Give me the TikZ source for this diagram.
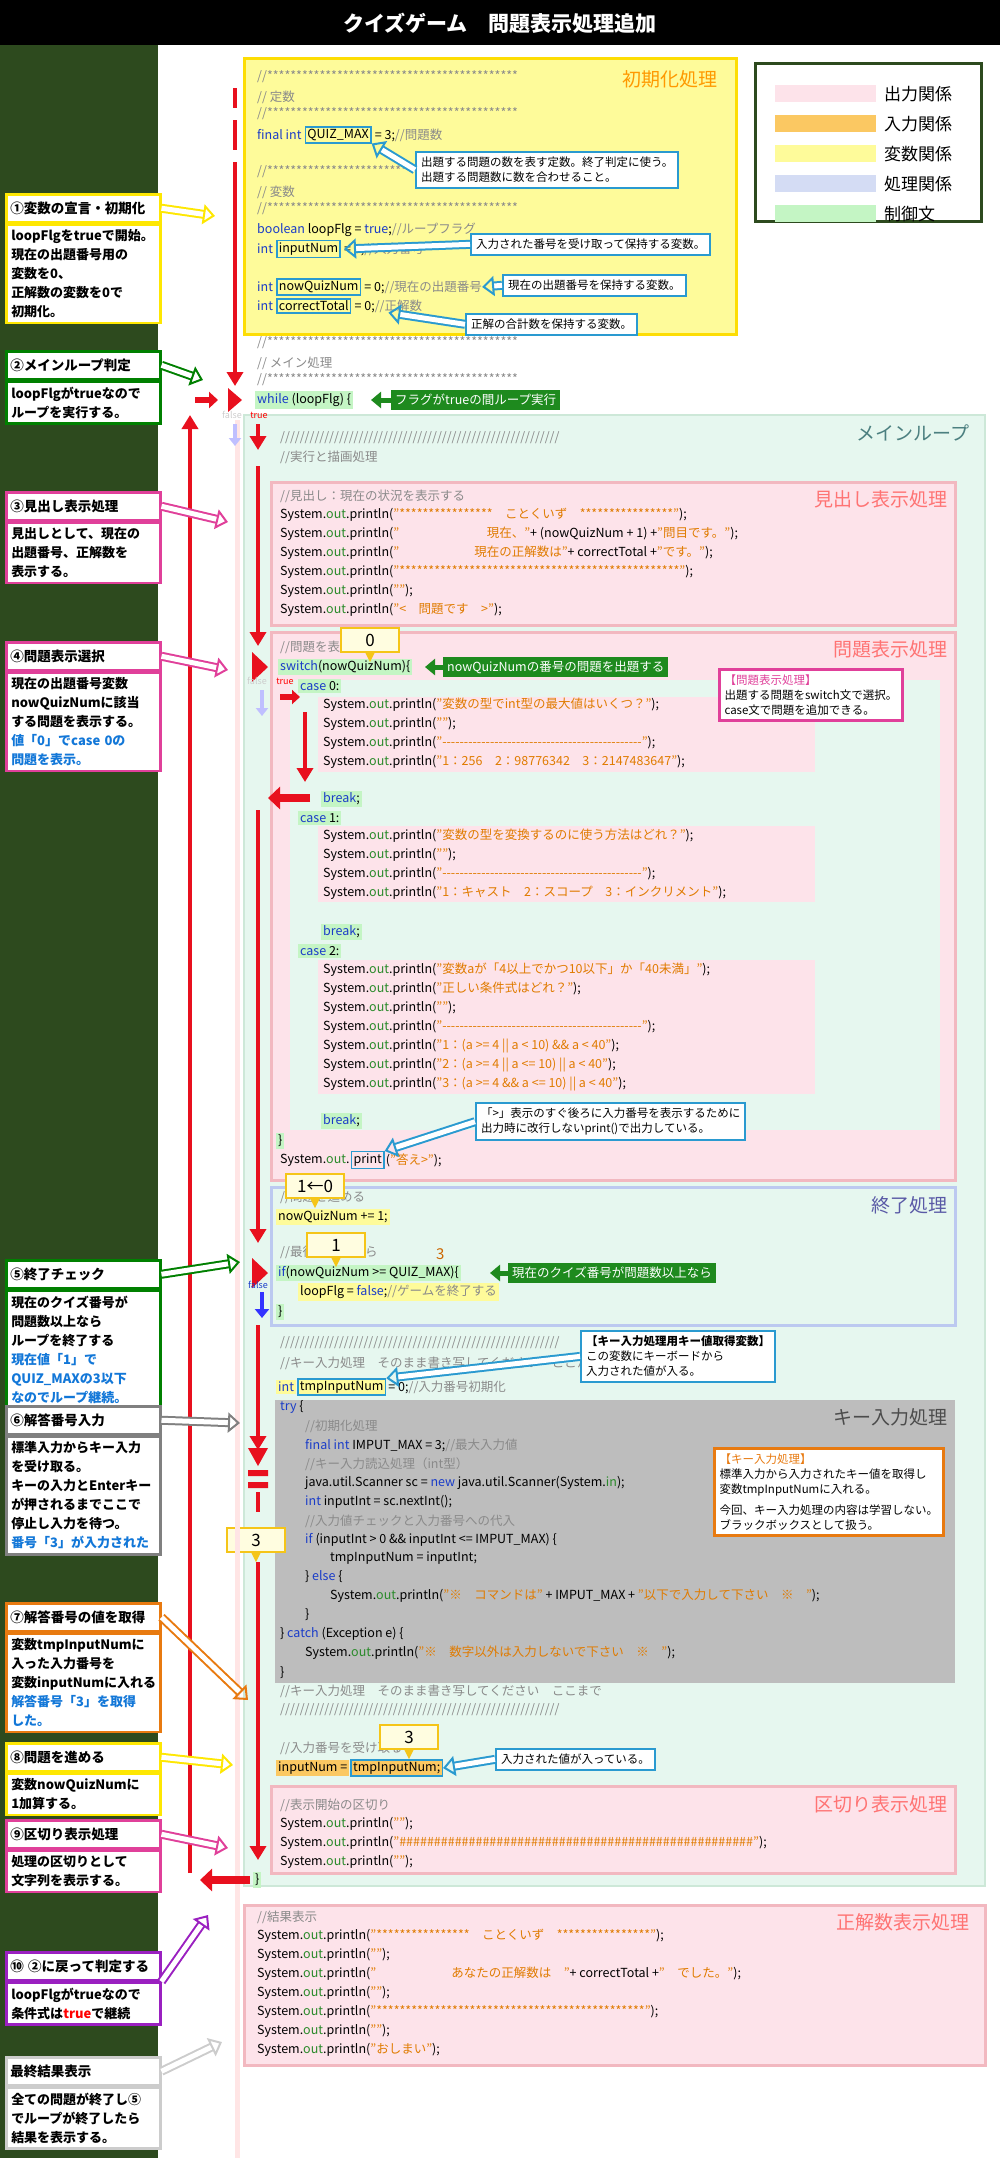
\documentclass[tikz,border=0pt]{standalone}
\usepackage{fontspec}
\setmainfont{Noto Sans CJK JP}
\usetikzlibrary{arrows.meta,positioning,calc}
\definecolor{panelgreen}{HTML}{2D4A1E}
\definecolor{pinkbg}{HTML}{FDE3EA}
\definecolor{pinkbd}{HTML}{F2B8C0}
\definecolor{orangebg}{HTML}{FBC862}
\definecolor{yellowbg}{HTML}{FEFB9A}
\definecolor{lavbg}{HTML}{D4DCF4}
\definecolor{lavbd}{HTML}{BCC9F0}
\definecolor{ctrlbg}{HTML}{C4F5C4}
\definecolor{mainbg}{HTML}{E6F7EF}
\definecolor{mainbd}{HTML}{CDE8D8}
\definecolor{keybg}{HTML}{BDBDBD}
\definecolor{callblue}{HTML}{2A9AD0}
\definecolor{labgreen}{HTML}{1E8A1E}
\definecolor{kwblue}{HTML}{1A3CC8}
\definecolor{stror}{HTML}{E07B00}
\definecolor{cmgray}{HTML}{8A8A8A}
\definecolor{outgr}{HTML}{2A8A2A}
\definecolor{redarr}{HTML}{E8101E}
\definecolor{magbd}{HTML}{E0409A}
\definecolor{bubbd}{HTML}{F5C518}
\definecolor{orbd}{HTML}{E87A10}
\definecolor{purbd}{HTML}{9A20C0}
\newcommand{\kwd}[1]{\textcolor{kwblue}{#1}}
\newcommand{\strg}[1]{\textcolor{stror}{#1}}
\newcommand{\cmnt}[1]{\textcolor{cmgray}{#1}}
\newcommand{\grn}[1]{\textcolor{outgr}{#1}}
\newcommand{\sysout}{System.\grn{out}.println}
\tikzset{
	code/.style = {anchor=west, inner sep=0pt, font=\fontsize{12.5}{14}\selectfont},
	hl/.style = {anchor=west, inner sep=2pt, fill=#1, font=\fontsize{12.5}{14}\selectfont},
	varbox/.style = {draw=callblue, line width=1.5pt, anchor=west, inner sep=2pt, font=\fontsize{12.5}{14}\selectfont},
	boxlabel/.style = {anchor=north east, inner sep=0pt, font=\fontsize{19}{21}\selectfont, text=#1},
	callout/.style = {draw=callblue, line width=2pt, fill=white, align=left, inner sep=5pt,
			font=\fontsize{11.5}{15}\selectfont},
	greenlab/.style = {fill=labgreen, text=white, inner sep=4pt, font=\fontsize{12.5}{14}\selectfont},
	bubble/.style = {draw=bubbd, line width=2.5pt, fill=yellow!12, minimum width=58pt,
			minimum height=24pt, font=\fontsize{17}{18}\selectfont},
	lefttitle/.style = {draw=#1, line width=2.5pt, fill=white, anchor=north west, minimum width=154pt,
			minimum height=28pt, text width=146pt, inner sep=3pt, font=\bfseries\fontsize{13.5}{15}\selectfont},
	leftbody/.style = {draw=#1, line width=2.5pt, fill=white, anchor=north west, minimum width=154pt,
			text width=144pt, align=left, inner sep=5pt, font=\bfseries\fontsize{13}{19}\selectfont},
	harrow/.style = {draw=#1, double=white, double distance=5pt, line width=2pt,
			-{Triangle[open, length=12pt, width=20pt]}},
	redline/.style = {draw=redarr, line width=4pt},
	redarrow/.style = {redline, -{Triangle[length=14pt, width=16pt]}},
}
\newcommand{\cl}[5][]{\node[code,#1] (#2) at (#3,#4) {#5};}
\begin{document}
\begin{tikzpicture}[x=1pt, y=-1pt]
	\useasboundingbox (0,0) rectangle (1000,2158);
	% background, title and side panel
	\fill[black] (0,0) rectangle (1000,45);
	\node[text=white, font=\bfseries\fontsize{21}{23}\selectfont] (title) at (500,23) {クイズゲーム　問題表示処理追加};
	\fill[panelgreen] (0,45) rectangle (158,2158);

	% legend
	\node[draw=panelgreen, line width=3pt, fill=white, minimum width=226pt, minimum height=158pt, anchor=north west] (legend) at (754,62) {};
	\foreach \c/\t [count=\i] in {pinkbg/出力関係, orangebg/入力関係, yellowbg/変数関係, lavbg/処理関係, ctrlbg/制御文}
		{ \fill[\c] (775,{55+\i*30}) rectangle (876,{72+\i*30});
		  \node[anchor=west, inner sep=0pt, font=\fontsize{17}{18}\selectfont] (leg\i) at (884,{64+\i*30}) {\t}; }

	% boxes
	\draw[yellow!80!orange, line width=3pt, fill=yellowbg] (244,58) rectangle (736,334);
	\node[boxlabel=orange!80!yellow] (initlab) at (718,70) {初期化処理};
	\draw[mainbd, line width=2pt, fill=mainbg] (244,415) rectangle (985,1886);
	\node[boxlabel=teal!40!gray] (mainlab) at (970,425) {メインループ};
	\draw[pinkbd, line width=3pt, fill=pinkbg] (271,482) rectangle (955,625);
	\node[boxlabel=red!55] (headlab) at (948,490) {見出し表示処理};
	\draw[pinkbd, line width=3pt, fill=pinkbg] (271,632) rectangle (955,1180);
	\node[boxlabel=red!55] (quizlab) at (948,640) {問題表示処理};
	\fill[mainbg] (290,680) rectangle (940,1130);
	\draw[lavbd, line width=3pt, fill=mainbg] (271,1187) rectangle (955,1325);
	\node[boxlabel=blue!30!gray] (endlab) at (948,1196) {終了処理};
	\fill[keybg] (275,1400) rectangle (955,1683);
	\node[boxlabel=black!70] (keylab) at (948,1408) {キー入力処理};
	\draw[pinkbd, line width=3pt, fill=pinkbg] (271,1786) rectangle (955,1873);
	\node[boxlabel=red!55] (seplab) at (948,1795) {区切り表示処理};
	\draw[pinkbd, line width=3pt, fill=pinkbg] (244,1905) rectangle (985,2065);
	\node[boxlabel=red!55] (reslab) at (970,1913) {正解数表示処理};

	% highlight bands in the switch
	\foreach \ya/\yb in {697/772, 826/902, 960/1094}
		{ \fill[pinkbg] (318,\ya) rectangle (815,\yb); }

	% initialisation code
	\cl{i1}{257}{77}{\cmnt{//*******************************************}}
	\cl{i2}{257}{97}{\cmnt{// 定数}}
	\cl{i3}{257}{114}{\cmnt{//*******************************************}}
	\cl{i4a}{257}{135}{\kwd{final int}}
	\node[varbox, right=3pt of i4a] (quizmax) {QUIZ\_MAX};
	\node[code, right=3pt of quizmax] (i4) {= 3;\cmnt{//問題数}};
	\cl{i5}{257}{172}{\cmnt{//*******************************************}}
	\cl{i6}{257}{192}{\cmnt{// 変数}}
	\cl{i7}{257}{209}{\cmnt{//*******************************************}}
	\cl{i8}{257}{230}{\kwd{boolean} loopFlg = \kwd{true};\cmnt{//ループフラグ}}
	\cl{i9a}{257}{249}{\kwd{int}}
	\node[varbox, right=3pt of i9a] (inputnum) {inputNum};
	\node[code, right=3pt of inputnum] (i9) {= 0;\cmnt{//入力番号}};
	\cl{i10a}{257}{287}{\kwd{int}}
	\node[varbox, right=3pt of i10a] (nowquiz) {nowQuizNum};
	\node[code, right=3pt of nowquiz] (i10) {= 0;\cmnt{//現在の出題番号}};
	\cl{i11a}{257}{306}{\kwd{int}}
	\node[varbox, right=3pt of i11a] (correct) {correctTotal};
	\node[code, right=3pt of correct] (i11) {= 0;\cmnt{//正解数}};
	\cl{i12}{257}{343}{\cmnt{//*******************************************}}
	\cl{i13}{257}{363}{\cmnt{// メイン処理}}
	\cl{i14}{257}{380}{\cmnt{//*******************************************}}
	\node[hl=ctrlbg] (while) at (255,400) {\kwd{while} (loopFlg) \{};

	% callouts of the initialisation
	\node[callout, anchor=north west] (c1) at (415,151) {出題する問題の数を表す定数。終了判定に使う。\\出題する問題数に数を合わせること。};
	\node[callout, anchor=north west] (c2) at (470,233) {入力された番号を受け取って保持する変数。};
	\node[callout, anchor=north west] (c3) at (502,274) {現在の出題番号を保持する変数。};
	\node[callout, anchor=north west] (c4) at (465,313) {正解の合計数を保持する変数。};
	\draw[harrow=callblue] (c1.west) -- (quizmax.south east);
	\draw[harrow=callblue] (c2.west) -- (i9.west);
	\draw[harrow=callblue] (c3.west) -- (i10.east);
	\draw[harrow=callblue] (c4.west) -- (i11.south);
	\node[greenlab, anchor=west] (wlab) at (391,400) {フラグがtrueの間ループ実行};
	\draw[labgreen, line width=5pt, -{Triangle[length=10pt, width=16pt]}] (wlab.west) -- ++(-20,0);

	% main loop code
	\cl{m1}{280}{438}{\cmnt{/////////////////////////////////////////////////////////}}
	\cl{m2}{280}{457}{\cmnt{//実行と描画処理}}
	\cl{h0}{280}{496}{\cmnt{//見出し：現在の状況を表示する}}
	\cl{h1}{280}{515}{\sysout(\strg{"****************　ことくいず　****************"});}
	\cl{h2}{280}{534}{\sysout(\strg{"　　　　　　　現在、"}+ (nowQuizNum + 1) +\strg{"問目です。"});}
	\cl{h3}{280}{553}{\sysout(\strg{"　　　　　　現在の正解数は"}+ correctTotal +\strg{"です。"});}
	\cl{h4}{280}{572}{\sysout(\strg{"************************************************"});}
	\cl{h5}{280}{591}{\sysout(\strg{""});}
	\cl{h6}{280}{610}{\sysout(\strg{"<　問題です　>"});}

	\cl{q0}{280}{647}{\cmnt{//問題を表示する}}
	\node[hl=ctrlbg] (switch) at (278,667) {\kwd{switch}(nowQuizNum)\{};
	\node[hl=ctrlbg] (case0) at (298,686) {\kwd{case} 0:};
	\cl{q1}{323}{705}{\sysout(\strg{"変数の型でint型の最大値はいくつ？"});}
	\cl{q2}{323}{724}{\sysout(\strg{""});}
	\cl{q3}{323}{743}{\sysout(\strg{"-{}-{}-{}-{}-{}-{}-{}-{}-{}-{}-{}-{}-{}-{}-{}-{}-{}-{}-{}-{}-{}-{}-{}-{}-{}-{}-{}-{}-{}-{}-{}-{}-{}-{}-{}-{}-{}-{}-{}-{}-{}-{}-{}-{}-{}-"});}
	\cl{q4}{323}{762}{\sysout(\strg{"1：256　2：98776342　3：2147483647"});}
	\node[hl=ctrlbg] (break0) at (321,799) {\kwd{break};};
	\node[hl=ctrlbg] (case1) at (298,818) {\kwd{case} 1:};
	\cl{q5}{323}{836}{\sysout(\strg{"変数の型を変換するのに使う方法はどれ？"});}
	\cl{q6}{323}{855}{\sysout(\strg{""});}
	\cl{q7}{323}{874}{\sysout(\strg{"-{}-{}-{}-{}-{}-{}-{}-{}-{}-{}-{}-{}-{}-{}-{}-{}-{}-{}-{}-{}-{}-{}-{}-{}-{}-{}-{}-{}-{}-{}-{}-{}-{}-{}-{}-{}-{}-{}-{}-{}-{}-{}-{}-{}-{}-"});}
	\cl{q8}{323}{893}{\sysout(\strg{"1：キャスト　2：スコープ　3：インクリメント"});}
	\node[hl=ctrlbg] (break1) at (321,932) {\kwd{break};};
	\node[hl=ctrlbg] (case2) at (298,951) {\kwd{case} 2:};
	\cl{q9}{323}{970}{\sysout(\strg{"変数aが「4以上でかつ10以下」か「40未満」"});}
	\cl{q10}{323}{989}{\sysout(\strg{"正しい条件式はどれ？"});}
	\cl{q11}{323}{1008}{\sysout(\strg{""});}
	\cl{q12}{323}{1027}{\sysout(\strg{"-{}-{}-{}-{}-{}-{}-{}-{}-{}-{}-{}-{}-{}-{}-{}-{}-{}-{}-{}-{}-{}-{}-{}-{}-{}-{}-{}-{}-{}-{}-{}-{}-{}-{}-{}-{}-{}-{}-{}-{}-{}-{}-{}-{}-{}-"});}
	\cl{q13}{323}{1046}{\sysout(\strg{"1：(a >= 4 || a < 10) \&\& a < 40"});}
	\cl{q14}{323}{1065}{\sysout(\strg{"2：(a >= 4 || a <= 10) || a < 40"});}
	\cl{q15}{323}{1084}{\sysout(\strg{"3：(a >= 4 \&\& a <= 10) || a < 40"});}
	\node[hl=ctrlbg] (break2) at (321,1121) {\kwd{break};};
	\node[hl=ctrlbg] (swend) at (276,1141) {\}};
	\cl{q16a}{280}{1160}{System.\grn{out}.}
	\node[varbox, right=1pt of q16a] (print) {print};
	\node[code, right=1pt of print] (q16) {(\strg{"答え>"});};
	\node[callout, anchor=north west] (c5) at (475,1102) {「>」表示のすぐ後ろに入力番号を表示するために\\出力時に改行しないprint()で出力している。};
	\draw[harrow=callblue] (c5.west) -- (print.north east);
	\node[draw=magbd, line width=3pt, fill=white, align=left, anchor=north west, inner sep=5pt,
		font=\fontsize{11.5}{15}\selectfont] (c6) at (718,668) {\textcolor{magbd}{【問題表示処理】}\\出題する問題をswitch文で選択。\\case文で問題を追加できる。};
	\node[greenlab, anchor=west] (slab) at (443,667) {nowQuizNumの番号の問題を出題する};
	\draw[labgreen, line width=5pt, -{Triangle[length=10pt, width=16pt]}] (slab.west) -- ++(-18,0);

	% end check
	\cl{e0}{280}{1197}{\cmnt{//問題を進める}}
	\node[hl=yellowbg] (inc) at (276,1217) {nowQuizNum += 1;};
	\cl{e1}{280}{1252}{\cmnt{//最後の問題なら}}
	\node[hl=ctrlbg] (if) at (276,1273) {\kwd{if}(nowQuizNum >= QUIZ\_MAX)\{};
	\node[hl=yellowbg] (flg) at (298,1292) {loopFlg = \kwd{false};\cmnt{//ゲームを終了する}};
	\node[hl=ctrlbg] (ifend) at (276,1312) {\}};
	\node[code, text=orange!80!black, font=\fontsize{15}{16}\selectfont] (three) at (436,1254) {3};
	\node[greenlab, anchor=west] (ilab) at (508,1273) {現在のクイズ番号が問題数以上なら};
	\draw[labgreen, line width=5pt, -{Triangle[length=10pt, width=16pt]}] (ilab.west) -- ++(-18,0);

	% key input
	\cl{k0}{280}{1343}{\cmnt{/////////////////////////////////////////////////////////}}
	\cl{k1}{280}{1363}{\cmnt{//キー入力処理　そのまま書き写してください　ここから}}
	\node[hl=yellowbg] (tmpdecl) at (276,1387) {\kwd{int}};
	\node[varbox, fill=yellowbg, right=1pt of tmpdecl] (tmpnum) {tmpInputNum};
	\node[code, right=2pt of tmpnum] (tmpdecl2) {= 0;\cmnt{//入力番号初期化}};
	\node[callout, anchor=north west] (c7) at (580,1330) {\textbf{【キー入力処理用キー値取得変数】}\\この変数にキーボードから\\入力された値が入る。};
	\draw[harrow=callblue] (c7.west) -- (tmpnum.north east);
	\cl{t1}{280}{1407}{\kwd{try} \{}
	\cl{t2}{305}{1426}{\cmnt{//初期化処理}}
	\cl{t3}{305}{1445}{\kwd{final int} IMPUT\_MAX = 3;\cmnt{//最大入力値}}
	\cl{t4}{305}{1464}{\cmnt{//キー入力読込処理（int型）}}
	\cl{t5}{305}{1483}{java.util.Scanner sc = \kwd{new} java.util.Scanner(System.\grn{in});}
	\cl{t6}{305}{1502}{\kwd{int} inputInt = sc.nextInt();}
	\cl{t7}{305}{1521}{\cmnt{//入力値チェックと入力番号への代入}}
	\cl{t8}{305}{1540}{\kwd{if} (inputInt > 0 \&\& inputInt <= IMPUT\_MAX) \{}
	\cl{t9}{330}{1558}{tmpInputNum = inputInt;}
	\cl{t10}{305}{1577}{\} \kwd{else} \{}
	\cl{t11}{330}{1596}{\sysout(\strg{"※　コマンドは"} + IMPUT\_MAX + \strg{"以下で入力して下さい　※　"});}
	\cl{t12}{305}{1615}{\}}
	\cl{t13}{280}{1634}{\} \kwd{catch} (Exception e) \{}
	\cl{t14}{305}{1653}{\sysout(\strg{"※　数字以外は入力しないで下さい　※　"});}
	\cl{t15}{280}{1673}{\}}
	\node[draw=orbd, line width=3pt, fill=white, align=left, anchor=north west, inner sep=5pt,
		font=\fontsize{11.5}{15}\selectfont] (c8) at (713,1447) {\textcolor{orbd}{【キー入力処理】}\\標準入力から入力されたキー値を取得し\\変数tmpInputNumに入れる。\\[6pt]今回、キー入力処理の内容は学習しない。\\ブラックボックスとして扱う。};
	\cl{k2}{280}{1691}{\cmnt{//キー入力処理　そのまま書き写してください　ここまで}}
	\cl{k3}{280}{1710}{\cmnt{/////////////////////////////////////////////////////////}}
	\cl{k4}{280}{1748}{\cmnt{//入力番号を受け取る}}
	\node[hl=orangebg] (assign) at (276,1768) {inputNum =};
	\node[varbox, fill=orangebg, right=1pt of assign] (tmpref) {tmpInputNum;};
	\node[callout, anchor=north west] (c9) at (495,1748) {入力された値が入っている。};
	\draw[harrow=callblue] (c9.west) -- (tmpref.east);

	% separator and result
	\cl{s0}{280}{1805}{\cmnt{//表示開始の区切り}}
	\cl{s1}{280}{1824}{\sysout(\strg{""});}
	\cl{s2}{280}{1843}{\sysout(\strg{"\#\#\#\#\#\#\#\#\#\#\#\#\#\#\#\#\#\#\#\#\#\#\#\#\#\#\#\#\#\#\#\#\#\#\#\#\#\#\#\#\#\#\#\#\#\#\#\#\#\#\#"});}
	\cl{s3}{280}{1862}{\sysout(\strg{""});}
	\node[hl=ctrlbg] (mainend) at (253,1880) {\}};
	\cl{r0}{257}{1917}{\cmnt{//結果表示}}
	\cl{r1}{257}{1936}{\sysout(\strg{"****************　ことくいず　****************"});}
	\cl{r2}{257}{1955}{\sysout(\strg{""});}
	\cl{r3}{257}{1974}{\sysout(\strg{"　　　　　　あなたの正解数は　"}+ correctTotal +\strg{"　でした。"});}
	\cl{r4}{257}{1993}{\sysout(\strg{""});}
	\cl{r5}{257}{2012}{\sysout(\strg{"**********************************************"});}
	\cl{r6}{257}{2031}{\sysout(\strg{""});}
	\cl{r7}{257}{2050}{\sysout(\strg{"おしまい"});}

	% value bubbles
	\foreach \n/\x/\y/\t in {b0/370/640/0, b1/315/1186/1←0, b2/336/1245/1, b3/256/1540/3, b4/409/1737/3}
		{ \fill[bubbd] (\x-6,\y+10) -- (\x,\y+22) -- (\x+6,\y+10) -- cycle;
		  \node[bubble] (\n) at (\x,\y) {\t}; }

	% flow arrows
	\fill[pink!40] (235,420) rectangle (240,2158);
	\draw[redline] (235,88) -- (235,108) (235,120) -- (235,150);
	\draw[redarrow] (235,162) -- (235,386);
	\fill[redarr] (228,388) -- (242,400) -- (228,412) -- cycle;
	\draw[redarr, line width=6pt, -{Triangle[length=9pt, width=16pt]}] (195,400) -- (218,400);
	\draw[redarrow] (190,1873) -- (190,415);
	\node[font=\fontsize{9}{10}\selectfont, text=gray!40, inner sep=0pt] (f1) at (232,415) {false};
	\node[font=\fontsize{9}{10}\selectfont, text=red, inner sep=0pt] (t1lab) at (259,415) {true};
	\draw[blue!25, line width=4pt, -{Triangle[length=8pt, width=12pt]}] (235,424) -- (235,446);
	\draw[redarrow] (258,424) -- (258,450);
	\draw[redarrow] (258,466) -- (258,646);
	\fill[redarr] (252,652) -- (268,667) -- (252,682) -- cycle;
	\node[font=\fontsize{9}{10}\selectfont, text=gray!40, inner sep=0pt] (f2) at (257,681) {false};
	\node[font=\fontsize{9}{10}\selectfont, text=red, inner sep=0pt] (t2lab) at (285,681) {true};
	\draw[blue!25, line width=4pt, -{Triangle[length=8pt, width=12pt]}] (262,690) -- (262,716);
	\draw[redarr, line width=6pt, -{Triangle[length=8pt, width=14pt]}] (280,697) -- (300,697);
	\draw[redarrow] (305,712) -- (305,782);
	\draw[redarr, line width=8pt, -{Triangle[length=12pt, width=22pt]}] (310,798) -- (268,798);
	\draw[redarrow] (258,810) -- (258,1243);
	\fill[redarr] (252,1258) -- (268,1273) -- (252,1288) -- cycle;
	\node[font=\fontsize{9}{10}\selectfont, text=kwblue, inner sep=0pt] (f3) at (258,1285) {false};
	\draw[blue!80, line width=4pt, -{Triangle[length=9pt, width=14pt]}] (262,1292) -- (262,1318);
	\draw[redarrow] (258,1325) -- (258,1450);
	\fill[redarr] (248,1448) -- (268,1448) -- (258,1466) -- cycle;
	\fill[redarr] (248,1470) rectangle (268,1476) (248,1482) rectangle (268,1488);
	\draw[redline] (258,1492) -- (258,1512);
	\draw[redarrow] (258,1562) -- (258,1860);
	\draw[redarr, line width=8pt, -{Triangle[length=12pt, width=22pt]}] (250,1880) -- (200,1880);

	% left explanation boxes
	\foreach \n/\c/\y/\ti/\body in {
			a/yellow!90!orange/193/①変数の宣言・初期化/{loopFlgをtrueで開始。\\現在の出題番号用の\\変数を0、\\正解数の変数を0で\\初期化。},
			b/green!50!black/350/②メインループ判定/{loopFlgがtrueなので\\ループを実行する。},
			c/magbd/491/③見出し表示処理/{見出しとして、現在の\\出題番号、正解数を\\表示する。},
			d/magbd/641/④問題表示選択/{現在の出題番号変数\\nowQuizNumに該当\\する問題を表示する。\\\textcolor{kwblue!70!cyan}{値「0」でcase 0の}\\\textcolor{kwblue!70!cyan}{問題を表示。}},
			e/green!50!black/1259/⑤終了チェック/{現在のクイズ番号が\\問題数以上なら\\ループを終了する\\\textcolor{kwblue!70!cyan}{現在値「1」で}\\\textcolor{kwblue!70!cyan}{QUIZ\_MAXの3以下}\\\textcolor{kwblue!70!cyan}{なのでループ継続。}},
			f/gray/1405/⑥解答番号入力/{標準入力からキー入力\\を受け取る。\\キーの入力とEnterキー\\が押されるまでここで\\停止し入力を待つ。\\\textcolor{kwblue!70!cyan}{番号「3」が入力された}},
			g/orbd/1602/⑦解答番号の値を取得/{変数tmpInputNumに\\入った入力番号を\\変数inputNumに入れる\\\textcolor{kwblue!70!cyan}{解答番号「3」を取得}\\\textcolor{kwblue!70!cyan}{した。}},
			h/yellow!90!orange/1742/⑧問題を進める/{変数nowQuizNumに\\1加算する。},
			i/magbd/1819/⑨区切り表示処理/{処理の区切りとして\\文字列を表示する。},
			j/purbd/1951/⑩ ②に戻って判定する/{loopFlgがtrueなので\\条件式は\textcolor{red}{true}で継続},
			k/gray!40/2056/最終結果表示/{全ての問題が終了し⑤\\でループが終了したら\\結果を表示する。}}
		{ \node[lefttitle=\c] (t\n) at (5,\y) {\ti};
		  \node[leftbody=\c, below=0pt of t\n.south west, anchor=north west] (x\n) {\body}; }

	\draw[harrow=yellow!90!orange] (ta.east) -- (215,216);
	\draw[harrow=green!50!black] (tb.east) -- (203,380);
	\draw[harrow=magbd] (tc.east) -- (228,522);
	\draw[harrow=magbd] (td.east) -- (228,670);
	\draw[harrow=green!50!black] (te.east) -- (240,1262);
	\draw[harrow=gray] (tf.east) -- (240,1423);
	\draw[harrow=orbd] (tg.east) -- (248,1700);
	\draw[harrow=yellow!90!orange] (th.east) -- (233,1765);
	\draw[harrow=magbd] (ti.east) -- (228,1848);
	\draw[harrow=purbd] (xj.north east) -- (208,1915);
	\draw[harrow=gray!40] (tk.east) -- (222,2042);
\end{tikzpicture}
\end{document}
